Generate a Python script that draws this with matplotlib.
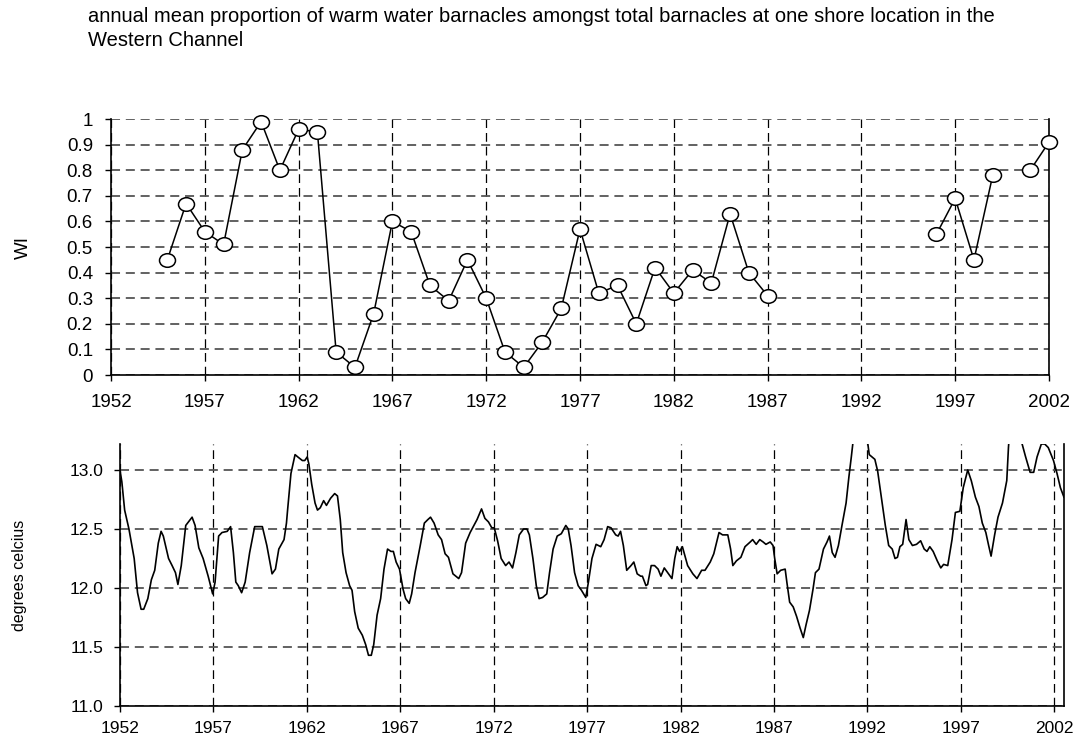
import numpy as np
import matplotlib
matplotlib.use("Agg")
import matplotlib.pyplot as plt
from matplotlib.path import Path
from matplotlib.transforms import Affine2D
from matplotlib.ticker import FormatStrFormatter

plt.rcParams['font.family'] = ['Liberation Sans', 'DejaVu Sans']

# warm water index (proportion of warm water barnacles), nan = no survey
wi_years = list(range(1955, 2003))
wi_values = [0.45, 0.67, 0.56, 0.51, 0.88, 0.99, 0.80, 0.96, 0.95, 0.09,
             0.03, 0.24, 0.60, 0.56, 0.35, 0.29, 0.45, 0.30, 0.09, 0.03,
             0.13, 0.26, 0.57, 0.32, 0.35, 0.20, 0.42, 0.32, 0.41, 0.36,
             0.63, 0.40, 0.31, np.nan, np.nan, np.nan, np.nan, np.nan, np.nan, np.nan,
             np.nan, 0.55, 0.69, 0.45, 0.78, np.nan, 0.80, 0.91]

# smoothed sea surface temperature
sst_time = [1952.0, 1952.1, 1952.25, 1952.48, 1952.76, 1952.94, 1953.13, 1953.27, 1953.49, 1953.68,
            1953.86, 1954.05, 1954.2, 1954.32, 1954.6, 1954.79, 1954.97, 1955.1, 1955.28, 1955.52,
            1955.86, 1956.02, 1956.22, 1956.45, 1956.72, 1956.96, 1957.09, 1957.28, 1957.46, 1957.74,
            1957.92, 1958.07, 1958.2, 1958.33, 1958.51, 1958.7, 1958.94, 1959.21, 1959.62, 1959.86,
            1960.14, 1960.32, 1960.5, 1960.78, 1960.91, 1960.97, 1961.15, 1961.37, 1961.52, 1961.76,
            1961.89, 1962.02, 1962.11, 1962.26, 1962.44, 1962.57, 1962.72, 1962.9, 1963.05, 1963.27,
            1963.49, 1963.64, 1963.79, 1963.92, 1964.1, 1964.29, 1964.42, 1964.56, 1964.75, 1964.97,
            1965.15, 1965.3, 1965.45, 1965.58, 1965.76, 1965.95, 1966.13, 1966.32, 1966.5, 1966.63,
            1966.78, 1966.96, 1967.15, 1967.29, 1967.48, 1967.61, 1967.79, 1968.07, 1968.29, 1968.48,
            1968.62, 1968.81, 1969.03, 1969.21, 1969.4, 1969.58, 1969.82, 1970.13, 1970.28, 1970.5,
            1970.74, 1971.11, 1971.35, 1971.53, 1971.72, 1971.9, 1972.03, 1972.21, 1972.4, 1972.64,
            1972.82, 1973.01, 1973.19, 1973.37, 1973.6, 1973.78, 1973.91, 1974.1, 1974.28, 1974.43,
            1974.62, 1974.84, 1974.99, 1975.18, 1975.4, 1975.62, 1975.86, 1975.99, 1976.14, 1976.33,
            1976.52, 1976.7, 1976.93, 1977.07, 1977.26, 1977.48, 1977.73, 1977.91, 1978.1, 1978.28,
            1978.53, 1978.66, 1978.79, 1978.94, 1979.12, 1979.35, 1979.5, 1979.68, 1979.87, 1979.96,
            1980.15, 1980.24, 1980.43, 1980.61, 1980.8, 1980.95, 1981.13, 1981.36, 1981.54, 1981.69,
            1981.82, 1981.95, 1982.1, 1982.38, 1982.66, 1982.88, 1983.13, 1983.31, 1983.59, 1983.78,
            1984.06, 1984.25, 1984.53, 1984.68, 1984.8, 1984.99, 1985.23, 1985.45, 1985.73, 1985.86,
            1986.05, 1986.24, 1986.42, 1986.57, 1986.8, 1986.95, 1987.04, 1987.17, 1987.36, 1987.6,
            1987.69, 1987.84, 1988.03, 1988.21, 1988.4, 1988.57, 1988.72, 1988.9, 1989.09, 1989.22,
            1989.41, 1989.65, 1989.84, 1989.97, 1990.12, 1990.27, 1990.45, 1990.64, 1990.86, 1991.01,
            1991.14, 1991.24, 1991.5, 1991.75, 1992.0, 1992.1, 1992.4, 1992.55, 1992.77, 1992.96,
            1993.14, 1993.33, 1993.48, 1993.61, 1993.74, 1993.89, 1994.07, 1994.22, 1994.41, 1994.63,
            1994.85, 1995.04, 1995.19, 1995.34, 1995.52, 1995.74, 1995.93, 1996.08, 1996.3, 1996.53,
            1996.71, 1996.95, 1997.13, 1997.37, 1997.56, 1997.78, 1997.97, 1998.15, 1998.34, 1998.49,
            1998.62, 1998.81, 1998.99, 1999.23, 1999.46, 1999.55, 1999.6, 1999.8, 2000.0, 2000.23,
            2000.47, 2000.71, 2000.9, 2001.08, 2001.31, 2001.49, 2001.68, 2001.96, 2002.15, 2002.33,
            2002.52]
sst_temp = [13.0, 12.9, 12.66, 12.5, 12.25, 11.96, 11.82, 11.82, 11.91, 12.07,
            12.15, 12.38, 12.48, 12.44, 12.25, 12.19, 12.13, 12.03, 12.19, 12.53,
            12.6, 12.53, 12.34, 12.25, 12.1, 11.95, 12.05, 12.44, 12.47, 12.48,
            12.52, 12.3, 12.05, 12.02, 11.96, 12.05, 12.3, 12.52, 12.52, 12.36,
            12.12, 12.16, 12.33, 12.41, 12.55, 12.66, 12.97, 13.13, 13.11, 13.08,
            13.08, 13.11, 13.05, 12.88, 12.72, 12.66, 12.68, 12.74, 12.7, 12.76,
            12.8, 12.78, 12.58, 12.3, 12.13, 12.02, 11.98, 11.8, 11.66, 11.6,
            11.52, 11.43, 11.43, 11.52, 11.77, 11.91, 12.16, 12.33, 12.31, 12.31,
            12.22, 12.16, 11.99, 11.91, 11.87, 11.95, 12.13, 12.36, 12.55, 12.58,
            12.6, 12.55, 12.45, 12.41, 12.29, 12.26, 12.12, 12.08, 12.13, 12.38,
            12.47, 12.58, 12.67, 12.59, 12.56, 12.51, 12.51, 12.4, 12.25, 12.19,
            12.22, 12.17, 12.3, 12.45, 12.5, 12.5, 12.45, 12.25, 12.02, 11.91,
            11.92, 11.95, 12.13, 12.33, 12.44, 12.46, 12.53, 12.5, 12.36, 12.13,
            12.02, 11.98, 11.92, 12.05, 12.25, 12.37, 12.35, 12.41, 12.52, 12.51,
            12.45, 12.44, 12.48, 12.36, 12.15, 12.19, 12.22, 12.12, 12.1, 12.1,
            12.02, 12.03, 12.19, 12.19, 12.16, 12.1, 12.17, 12.12, 12.08, 12.25,
            12.35, 12.31, 12.35, 12.19, 12.12, 12.08, 12.15, 12.15, 12.22, 12.29,
            12.47, 12.45, 12.45, 12.33, 12.19, 12.23, 12.26, 12.35, 12.39, 12.41,
            12.37, 12.41, 12.39, 12.37, 12.39, 12.36, 12.25, 12.12, 12.15, 12.16,
            12.05, 11.88, 11.84, 11.76, 11.66, 11.58, 11.69, 11.81, 11.99, 12.13,
            12.16, 12.33, 12.39, 12.44, 12.3, 12.26, 12.36, 12.53, 12.72, 12.94,
            13.11, 13.25, 13.45, 13.4, 13.25, 13.13, 13.09, 12.99, 12.74, 12.53,
            12.36, 12.33, 12.25, 12.26, 12.35, 12.37, 12.58, 12.41, 12.36, 12.37,
            12.4, 12.33, 12.31, 12.35, 12.31, 12.23, 12.17, 12.2, 12.19, 12.41,
            12.64, 12.65, 12.85, 13.0, 12.91, 12.77, 12.69, 12.55, 12.47, 12.36,
            12.27, 12.45, 12.6, 12.72, 12.91, 13.19, 13.3, 13.45, 13.35, 13.25,
            13.11, 12.98, 12.98, 13.11, 13.22, 13.22, 13.19, 13.08, 12.97, 12.85,
            12.77]

year_ticks = list(range(1952, 2003, 5))
wi_ticks = [0, 0.1, 0.2, 0.3, 0.4, 0.5, 0.6, 0.7, 0.8, 0.9, 1]
sst_ticks = [11.0, 11.5, 12.0, 12.5, 13.0]

title = ("annual mean proportion of warm water barnacles amongst total barnacles at one shore location in the\n"
         "Western Channel")

# slightly flattened open circle for the markers
oval = Path.unit_circle().transformed(Affine2D().scale(1.0, 0.85))

fig = plt.figure(figsize=(10.76, 7.4), dpi=100)
fig.text(0.0818, 0.99, title, ha='left', va='top', fontsize=14.5, linespacing=1.3)

ax1 = fig.add_axes([0.1032, 0.4932, 0.8717, 0.3459])
ax2 = fig.add_axes([0.1115, 0.0459, 0.8773, 0.3541])


def style(ax, pad_y):
    ax.spines['top'].set_visible(False)
    for s in ['left', 'right', 'bottom']:
        ax.spines[s].set_linewidth(1.2)
    ax.grid(axis='x', color='black', linewidth=0.9, linestyle=(0, (7, 4)))
    ax.grid(axis='y', color='#555555', linewidth=1.3, linestyle=(0, (5, 3.2)))
    ax.set_axisbelow(True)
    ax.tick_params(axis='both', direction='out', length=4, width=1, color='black')
    ax.tick_params(axis='y', pad=pad_y)


# top: warm water index
ax1.plot(wi_years, wi_values, color='black', linewidth=1.1, marker=oval,
         markersize=11.5, markerfacecolor='white', markeredgecolor='black',
         markeredgewidth=1.1, clip_on=False, zorder=3)
ax1.set_xlim(1952, 2002)
ax1.set_ylim(0, 1)
ax1.set_xticks(year_ticks)
ax1.set_yticks(wi_ticks)
ax1.yaxis.set_major_formatter(FormatStrFormatter('%g'))
style(ax1, 9)
ax1.tick_params(axis='x', pad=10, labelsize=13.5)
ax1.tick_params(axis='y', labelsize=13.5)
ax1.set_ylabel('WI', fontsize=13.5)
ax1.yaxis.set_label_coords(-0.084, 0.5)

# bottom: sea surface temperature
ax2.plot(sst_time, sst_temp, color='black', linewidth=1.2)
ax2.set_xlim(1952, 2002.52)
ax2.set_ylim(11.0, 13.22)
ax2.set_xticks(year_ticks)
ax2.set_yticks(sst_ticks)
ax2.yaxis.set_major_formatter(FormatStrFormatter('%.1f'))
style(ax2, 8)
ax2.tick_params(axis='x', pad=7, labelsize=12.5)
ax2.tick_params(axis='y', labelsize=12.5)
ax2.set_ylabel('degrees celcius', fontsize=11.5)
ax2.yaxis.set_label_coords(-0.098, 0.5)

fig.savefig('out.png', dpi=100)
